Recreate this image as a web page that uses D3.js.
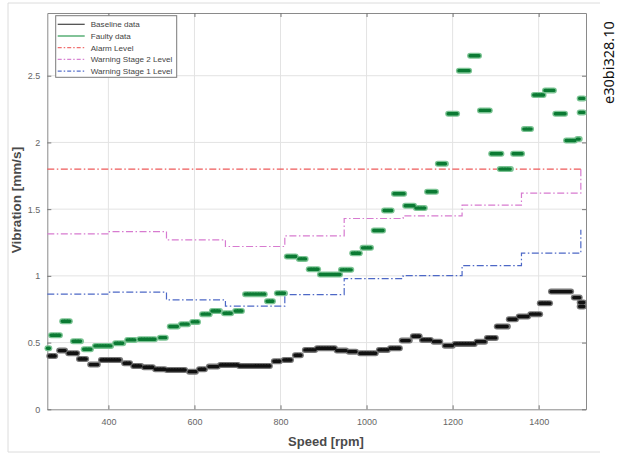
<!DOCTYPE html>
<html>
<head>
<meta charset="utf-8">
<script src="https://cdn.jsdelivr.net/npm/d3@7"></script>
<style>
  body { margin: 0; background: #fff; }
  svg { display: block; }
</style>
</head>
<body>
<div id="chart"></div>
<script>
// clumps of samples: [speed from, speed to, vibration]
const baselineData = [
  [258, 281, 0.40], [281, 304, 0.44], [302, 332, 0.42], [327, 353, 0.377],
  [353, 380, 0.335], [378, 432, 0.37], [432, 455, 0.345], [453, 481, 0.325],
  [478, 508, 0.315], [504, 536, 0.30], [531, 583, 0.295], [583, 608, 0.282],
  [606, 629, 0.30], [629, 659, 0.32], [655, 706, 0.332], [699, 780, 0.325],
  [780, 803, 0.36], [803, 829, 0.37], [829, 852, 0.405], [852, 885, 0.445],
  [880, 931, 0.458], [926, 957, 0.44], [954, 980, 0.432], [980, 1026, 0.42],
  [1024, 1054, 0.445], [1050, 1082, 0.458], [1077, 1105, 0.515], [1103, 1128, 0.547],
  [1124, 1154, 0.52], [1151, 1176, 0.507], [1177, 1205, 0.477], [1200, 1256, 0.49],
  [1251, 1280, 0.507], [1275, 1305, 0.535], [1298, 1333, 0.62], [1326, 1352, 0.675],
  [1349, 1380, 0.695], [1376, 1408, 0.713], [1398, 1431, 0.795], [1424, 1480, 0.882],
  [1477, 1500, 0.837], [1500, 1500, 0.80], [1500, 1500, 0.77]
];

const faultyData = [
  [258, 263, 0.457], [262, 292, 0.555], [288, 315, 0.66], [313, 341, 0.51],
  [338, 364, 0.45], [364, 411, 0.475], [411, 439, 0.495], [439, 467, 0.52],
  [467, 513, 0.525], [515, 538, 0.537], [538, 566, 0.62], [564, 590, 0.638],
  [590, 613, 0.655], [613, 640, 0.713], [636, 664, 0.737], [664, 690, 0.72],
  [690, 715, 0.737], [713, 768, 0.863], [764, 787, 0.81], [787, 815, 0.87],
  [810, 840, 1.145], [838, 863, 1.127], [861, 892, 1.05], [887, 943, 1.01],
  [936, 969, 1.045], [962, 989, 1.17], [986, 1015, 1.21], [1012, 1043, 1.34],
  [1036, 1063, 1.49], [1059, 1092, 1.615], [1085, 1115, 1.525], [1110, 1140, 1.508],
  [1136, 1166, 1.63], [1161, 1189, 1.84], [1185, 1215, 2.215], [1210, 1243, 2.538],
  [1236, 1266, 2.65], [1259, 1291, 2.24], [1285, 1318, 1.915], [1305, 1340, 1.80],
  [1336, 1366, 1.915], [1361, 1387, 2.10], [1384, 1416, 2.355], [1410, 1440, 2.39],
  [1434, 1466, 2.215], [1459, 1489, 2.015], [1485, 1500, 2.025],
  [1500, 1500, 2.33], [1500, 1500, 2.225]
];

// level stairs
const stepSpeeds = [258, 400, 535, 672, 810, 948, 1085, 1222, 1360, 1498];
const alarmLevel = [1.8, 1.8, 1.8, 1.8, 1.8, 1.8, 1.8, 1.8, 1.8, 1.8];
const warning2Level = [1.315, 1.332, 1.27, 1.22, 1.30, 1.43, 1.45, 1.53, 1.62, 1.80];
const warning1Level = [0.863, 0.878, 0.82, 0.773, 0.86, 0.98, 1.002, 1.077, 1.17, 1.345];

const xTicks = [400, 600, 800, 1000, 1200, 1400];
const yTicks = [0, 0.5, 1, 1.5, 2, 2.5];
const legendNames = ["Baseline data", "Faulty data", "Alarm Level", "Warning Stage 2 Level", "Warning Stage 1 Level"];

const W = 618, H = 454;
const plotL = 47.3, plotR = 586, plotT = 13, plotB = 409.3;

const svg = d3.select("#chart").append("svg")
  .attr("width", W)
  .attr("height", H)
  .style("font-family", "'Liberation Sans', Arial, sans-serif");

// faint frame around the figure
svg.append("path")
  .attr("d", "M600,3 H8 V452 H600")
  .attr("fill", "none")
  .attr("stroke", "#dcdcdc")
  .attr("stroke-width", 1);

const x = d3.scaleLinear().domain([258, 1510]).range([plotL, plotR]);
const y = d3.scaleLinear().domain([0, 2.97]).range([plotB, plotT]);

// grid
const grid = svg.append("g");
grid.selectAll(".gx").data(xTicks).enter().append("line")
  .attr("x1", d => x(d)).attr("x2", d => x(d))
  .attr("y1", plotT).attr("y2", plotB)
  .attr("stroke", "#e3e3e3").attr("stroke-width", 1);
grid.selectAll(".gy").data(yTicks.slice(1)).enter().append("line")
  .attr("x1", plotL).attr("x2", plotR)
  .attr("y1", d => y(d)).attr("y2", d => y(d))
  .attr("stroke", "#e3e3e3").attr("stroke-width", 1);

// axes with inward ticks
const axisColor = "#8a8a8a";
svg.append("g").attr("transform", `translate(0,${plotB})`)
  .call(d3.axisBottom(x).tickValues(xTicks).tickSize(-4).tickPadding(9).tickSizeOuter(0)
    .tickFormat(d3.format("d")));
svg.append("g").attr("transform", `translate(${plotL},0)`)
  .call(d3.axisLeft(y).tickValues(yTicks).tickSize(-4).tickPadding(7).tickSizeOuter(0)
    .tickFormat(d3.format("~g")));
svg.append("g").attr("transform", `translate(0,${plotT})`)
  .call(d3.axisTop(x).tickValues(xTicks).tickSize(-4).tickFormat("").tickSizeOuter(0));
svg.append("g").attr("transform", `translate(${plotR},0)`)
  .call(d3.axisRight(y).tickValues(yTicks).tickSize(-4).tickFormat("").tickSizeOuter(0));

svg.selectAll(".domain").attr("stroke", axisColor);
svg.selectAll(".tick line").attr("stroke", "#777");
svg.selectAll(".tick text").attr("fill", "#666").style("font-size", "9px");

// stairs for levels
const stairs = d3.line()
  .x(d => x(d[0]))
  .y(d => y(d[1]))
  .curve(d3.curveStepAfter);

const levels = [
  { vals: warning1Level, color: "#4d68c6" },
  { vals: warning2Level, color: "#d77bd0" },
  { vals: alarmLevel, color: "#ee5a5a" }
];
const dashDot = "7,2.5,1.5,2.5";

svg.append("g").selectAll("path")
  .data(levels)
  .enter()
  .append("path")
    .attr("d", d => stairs(stepSpeeds.map((s, i) => [s, d.vals[i]])))
    .attr("fill", "none")
    .attr("stroke", d => d.color)
    .attr("stroke-width", 1.2)
    .attr("stroke-dasharray", dashDot);

// sample clumps (dense star markers)
function drawClumps(data, dark, halo) {
  const g = svg.append("g");
  g.selectAll(".halo").data(data).enter().append("line")
    .attr("x1", d => x(d[0]) + 2).attr("x2", d => x(d[1]) - 2)
    .attr("y1", d => y(d[2])).attr("y2", d => y(d[2]))
    .attr("stroke", halo).attr("stroke-width", 6)
    .attr("stroke-linecap", "round");
  g.selectAll(".core").data(data).enter().append("line")
    .attr("x1", d => x(d[0]) + 2).attr("x2", d => x(d[1]) - 2)
    .attr("y1", d => y(d[2])).attr("y2", d => y(d[2]))
    .attr("stroke", dark).attr("stroke-width", 3.4)
    .attr("stroke-linecap", "round")
    .attr("stroke-dasharray", "2,0.8");
}
drawClumps(baselineData, "#111", "#777");
drawClumps(faultyData, "#0b7a33", "#7cc494");

// legend
const legend = svg.append("g").attr("transform", "translate(55.7,15.7)");
legend.append("rect")
  .attr("width", 121).attr("height", 61.6)
  .attr("fill", "#fff").attr("stroke", "#7a7a7a").attr("stroke-width", 1);

const legendStyle = [
  { color: "#444", dash: null },
  { color: "#2e9a52", dash: null },
  { color: "#f07070", dash: "4,2,1.5,2" },
  { color: "#d884d2", dash: "4,2,1.5,2" },
  { color: "#5670cc", dash: "4,2,1.5,2" }
];

const rows = legend.selectAll(".row")
  .data(legendNames)
  .enter()
  .append("g")
    .attr("transform", (d, i) => `translate(0,${8.6 + i * 11.7})`);

rows.append("line")
  .attr("x1", 2).attr("x2", 29)
  .attr("stroke", (d, i) => legendStyle[i].color)
  .attr("stroke-width", 1.2)
  .attr("stroke-dasharray", (d, i) => legendStyle[i].dash);

rows.append("text")
  .attr("x", 35).attr("y", 3)
  .text(d => d)
  .style("font-size", "8.1px")
  .attr("fill", "#444");

// axis titles
svg.append("text")
  .attr("x", 326).attr("y", 446)
  .attr("text-anchor", "middle")
  .style("font-size", "13px").style("font-weight", "bold")
  .attr("fill", "#4a4a4a")
  .text("Speed [rpm]");

svg.append("text")
  .attr("transform", "translate(21,200) rotate(-90)")
  .attr("text-anchor", "middle")
  .style("font-size", "13.5px").style("font-weight", "bold")
  .attr("fill", "#4a4a4a")
  .text("Vibration [mm/s]");

// figure id
svg.append("text")
  .attr("transform", "translate(614,104) rotate(-90)")
  .style("font-family", "'Noto Sans', 'Open Sans', sans-serif")
  .style("font-size", "14.5px")
  .attr("fill", "#111")
  .text("e30bi328.10");
</script>
</body>
</html>
